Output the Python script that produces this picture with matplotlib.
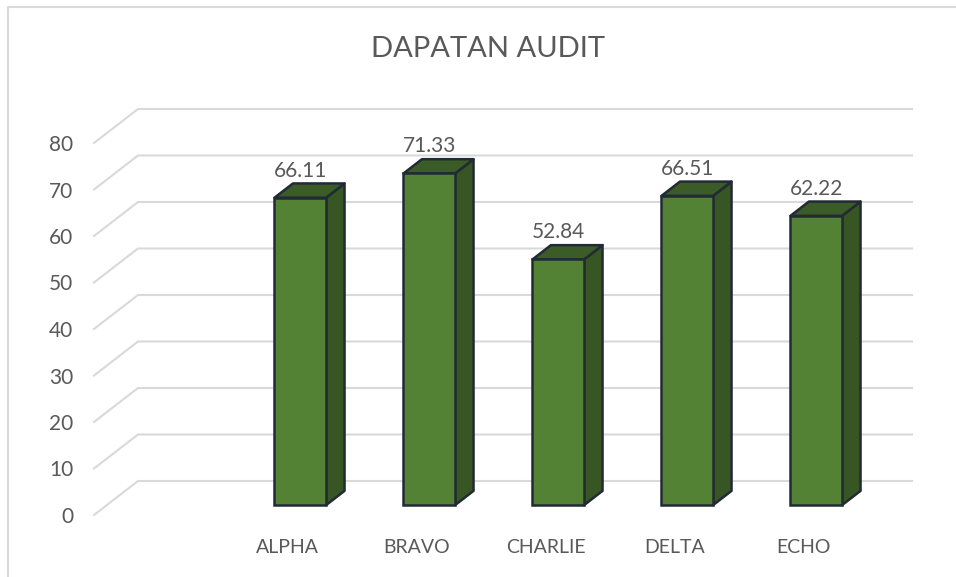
import matplotlib
matplotlib.use('Agg')
import matplotlib.pyplot as plt
from matplotlib.patches import Polygon
from matplotlib.lines import Line2D
import numpy as np

plt.rcParams['font.family'] = ['Lato', 'DejaVu Sans']

# --- data --- #
categories = ['ALPHA', 'BRAVO', 'CHARLIE', 'DELTA', 'ECHO']
scores = [66.11, 71.33, 52.84, 66.51, 62.22]
y_ticks = [0, 10, 20, 30, 40, 50, 60, 70, 80]
title = 'DAPATAN AUDIT'

# --- fake 3D geometry (front plane coordinates) --- #
DX = 44 / 129          # depth shift in category units
DY = 34 / 4.65         # depth shift in value units
f0, f1 = 0.29, 0.71    # bar front/back depth fractions
W = 0.40               # bar width
GRID = '#d9d9d9'
TXT = '#595959'
FRONT = '#548235'
SIDE = '#375623'
TOP = '#3b5c27'
EDGE = '#222a35'

fig = plt.figure(figsize=(9.56, 5.77), dpi=100)
ax = fig.add_axes([94 / 956, 62 / 577, 818 / 956, 418.5 / 577])
ax.set_xlim(-0.5, 5.5 + DX)
ax.set_ylim(0, 90)

# floor/wall gridlines
for v in y_ticks:
    ax.plot([-0.5, -0.5 + DX, 5.5 + DX], [v, v + DY, v + DY],
            color=GRID, lw=1.5, zorder=1, clip_on=False)

pos = np.arange(1, len(categories) + 1)
d_x = (f1 - f0) * DX
d_y = (f1 - f0) * DY
ax.bar(pos + f0 * DX, scores, width=W, bottom=f0 * DY, color=FRONT,
       edgecolor=EDGE, linewidth=1.8, zorder=3)
for x, v in zip(pos, scores):
    xl = x - W / 2 + f0 * DX
    xr = x + W / 2 + f0 * DX
    yb = f0 * DY
    yt = v + f0 * DY
    side = Polygon([(xr, yb), (xr + d_x, yb + d_y), (xr + d_x, yt + d_y),
                    (xr, yt)], closed=True, facecolor=SIDE, edgecolor=EDGE,
                   lw=1.8, zorder=2.9, joinstyle='round')
    top = Polygon([(xl, yt), (xr, yt), (xr + d_x, yt + d_y),
                   (xl + d_x, yt + d_y)], closed=True, facecolor=TOP,
                  edgecolor=EDGE, lw=1.8, zorder=2.9, joinstyle='round')
    ax.add_patch(side)
    ax.add_patch(top)
    ax.annotate(f'{v:.2f}', (x + f0 * DX, yt + d_y), xytext=(0, 2),
                textcoords='offset points', ha='center', va='bottom',
                fontsize=15, color=TXT, zorder=4)

ax.set_yticks(y_ticks)
ax.set_yticklabels([str(t) for t in y_ticks])
ax.set_xticks(pos)
ax.set_xticklabels(categories)
ax.tick_params(axis='y', length=0, pad=15, labelsize=15, labelcolor=TXT)
ax.tick_params(axis='x', length=0, pad=17, labelsize=14, labelcolor=TXT)
for s in ax.spines.values():
    s.set_visible(False)
ax.patch.set_alpha(0)

fig.text(488 / 956, 1 - 49 / 577, title, ha='center', va='center',
         fontsize=21, color=TXT)

# chart border (left + top visible)
fig.add_artist(Line2D([7.5 / 956, 7.5 / 956, 1], [0, 1 - 6.5 / 577, 1 - 6.5 / 577],
                      color=GRID, lw=1.5))

fig.savefig('out.png', dpi=100, facecolor='white')
